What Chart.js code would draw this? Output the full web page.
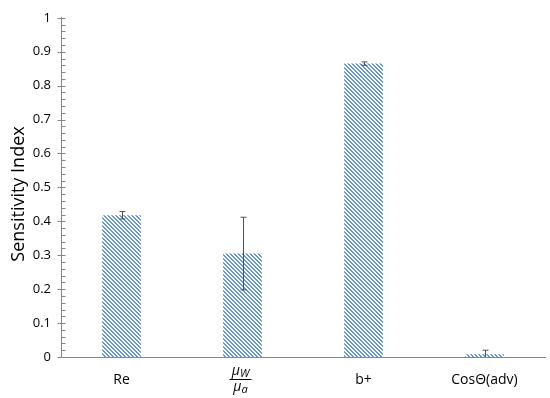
<!DOCTYPE html>
<html>
<head>
<meta charset="utf-8">
<script src="https://cdn.jsdelivr.net/npm/chart.js@4"></script>
<style>
  html, body { margin: 0; padding: 0; background: #fff; }
  #wrap { width: 550px; height: 398px; }
</style>
</head>
<body>
<div id="wrap"><canvas id="c"></canvas></div>
<script>
// data
const categories = ['Re', 'muW/mua', 'b+', 'Cos\u0398(adv)'];
const indexValues = [0.418, 0.305, 0.865, 0.008];
const errValues   = [0.011, 0.107, 0.005, 0.012];
const yTicks = [0, 0.1, 0.2, 0.3, 0.4, 0.5, 0.6, 0.7, 0.8, 0.9, 1];

const FONT = '"Open Sans", "Liberation Sans", sans-serif';
const TXT = '#000';
const AXIS = '#868686';

// diagonal hatch like Excel's pattern fill
function hatch() {
  const c = document.createElement('canvas');
  c.width = 4; c.height = 4;
  const g = c.getContext('2d');
  g.fillStyle = '#fff';
  g.fillRect(0, 0, 4, 4);
  g.fillStyle = '#6494da';
  for (let i = 0; i < 4; i++) {
    g.fillRect(i, i, 1, 1);
    g.fillRect((i + 1) % 4, i, 1, 1);
  }
  return g.createPattern(c, 'repeat');
}

const errorBars = {
  id: 'errorBars',
  afterDatasetsDraw(chart) {
    const ctx = chart.ctx, y = chart.scales.y;
    const meta = chart.getDatasetMeta(0);
    ctx.save();
    ctx.strokeStyle = '#505050';
    ctx.lineWidth = 1;
    meta.data.forEach((bar, i) => {
      const x = Math.round(bar.x) + 0.5;
      const hi = y.getPixelForValue(indexValues[i] + errValues[i]);
      const lo = y.getPixelForValue(Math.max(0, indexValues[i] - errValues[i]));
      ctx.beginPath();
      ctx.moveTo(x, hi); ctx.lineTo(x, lo);
      ctx.moveTo(x - 3, hi); ctx.lineTo(x + 3, hi);
      if (indexValues[i] - errValues[i] > 0) { ctx.moveTo(x - 3, lo); ctx.lineTo(x + 3, lo); }
      ctx.stroke();
    });
    ctx.restore();
  }
};

// y tick marks (major across the axis, minor inside), title and the fraction label
const axisExtras = {
  id: 'axisExtras',
  afterDraw(chart) {
    const ctx = chart.ctx, y = chart.scales.y, x = chart.scales.x;
    const area = chart.chartArea;
    const ax = Math.round(area.left) + 0.5;
    ctx.save();
    ctx.strokeStyle = AXIS;
    ctx.lineWidth = 1;
    ctx.beginPath();
    y.ticks.forEach(t => {
      const py = Math.round(y.getPixelForValue(t.value)) + 0.5;
      const major = Math.abs(t.value * 10 - Math.round(t.value * 10)) < 1e-6;
      if (major) { ctx.moveTo(ax - 4, py); ctx.lineTo(ax + 4, py); }
      else { ctx.moveTo(ax, py); ctx.lineTo(ax + 4, py); }
    });
    ctx.stroke();

    // axis title
    ctx.save();
    ctx.translate(19, 194);
    ctx.rotate(-Math.PI / 2);
    ctx.fillStyle = TXT;
    ctx.font = '18px ' + FONT;
    ctx.textAlign = 'center';
    ctx.textBaseline = 'middle';
    ctx.fillText('Sensitivity Index', 0, 0);
    ctx.restore();

    // mu_W over mu_a
    const cx = x.getPixelForValue(1) - 2;
    ctx.fillStyle = TXT;
    ctx.textAlign = 'left';
    ctx.textBaseline = 'alphabetic';
    const top = area.bottom;
    ctx.font = 'italic 14px ' + FONT;
    const mu = '\u03bc';
    const wMu = ctx.measureText(mu).width;
    ctx.font = 'italic 11px ' + FONT;
    const wW = ctx.measureText('W').width, wA = ctx.measureText('a').width;
    let sx = cx - (wMu + wW) / 2;
    ctx.font = 'italic 14px ' + FONT;
    ctx.fillText(mu, sx, top + 18);
    ctx.font = 'italic 11px ' + FONT;
    ctx.fillText('W', sx + wMu, top + 20);
    sx = cx - (wMu + wA) / 2;
    ctx.font = 'italic 14px ' + FONT;
    ctx.fillText(mu, sx, top + 34);
    ctx.font = 'italic 11px ' + FONT;
    ctx.fillText('a', sx + wMu, top + 36);
    ctx.beginPath();
    ctx.strokeStyle = TXT;
    ctx.moveTo(cx - 11, top + 22.5); ctx.lineTo(cx + 11, top + 22.5);
    ctx.stroke();
    ctx.restore();
  }
};

new Chart(document.getElementById('c'), {
  type: 'bar',
  data: {
    labels: categories,
    datasets: [{
      data: indexValues,
      backgroundColor: hatch(),
      borderWidth: 0,
      barPercentage: 0.32,
      categoryPercentage: 1,
    }],
  },
  options: {
    responsive: true, maintainAspectRatio: false,
    animation: false,
    layout: { padding: { top: 8, right: 5, left: 0, bottom: 0 } },
    plugins: { legend: { display: false }, tooltip: { enabled: false } },
    scales: {
      x: {
        grid: { display: false },
        border: { color: AXIS, width: 1 },
        ticks: {
          color: TXT, font: { family: FONT, size: 14 }, padding: 7,
          callback: (v, i) => i === 1 ? '' : categories[i],
        },
        afterFit: s => { s.height = 41; },
      },
      y: {
        min: 0, max: 1,
        grid: { display: false, drawTicks: false },
        border: { color: AXIS, width: 1 },
        ticks: {
          stepSize: 0.02, autoSkip: false, color: TXT, padding: 10,
          font: { family: FONT, size: 13 },
          callback: v => {
            const r = Math.round(v * 10);
            return Math.abs(v * 10 - r) < 1e-6 ? String(r / 10) : '';
          },
        },
        afterFit: s => { s.width = 61; },
      },
    },
  },
  plugins: [errorBars, axisExtras],
});
</script>
</body>
</html>
